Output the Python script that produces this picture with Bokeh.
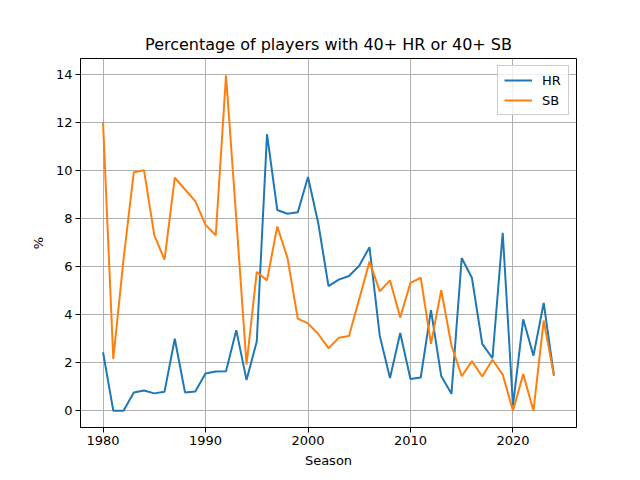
from bokeh.plotting import figure
from bokeh.models import FixedTicker, Range1d, Legend, LegendItem
from bokeh.embed import file_html
from bokeh.resources import INLINE

seasons = list(range(1980, 2025))
hr = [2.43, 0.0, 0.0, 0.76, 0.84, 0.72, 0.79, 2.99, 0.76, 0.8,
      1.55, 1.63, 1.64, 3.35, 1.28, 2.88, 11.5, 8.35, 8.19, 8.25,
      9.72, 7.8, 5.18, 5.45, 5.6, 6.03, 6.8, 3.12, 1.36, 3.23,
      1.32, 1.38, 4.18, 1.44, 0.7, 6.35, 5.52, 2.78, 2.18, 7.4,
      0.21, 3.8, 2.29, 4.48, 1.46]
sb = [12.0, 2.15, 6.3, 9.92, 10.0, 7.3, 6.28, 9.69, 9.2, 8.72,
      7.73, 7.3, 13.95, 8.0, 1.92, 5.77, 5.42, 7.66, 6.35, 3.83,
      3.63, 3.19, 2.6, 3.03, 3.11, 4.65, 6.2, 4.97, 5.42, 3.88,
      5.32, 5.53, 2.78, 5.01, 2.71, 1.43, 2.06, 1.42, 2.12, 1.5,
      0.0, 1.52, 0.0, 3.75, 1.46]
x_ticks = [1980, 1990, 2000, 2010, 2020]
y_ticks = [0, 2, 4, 6, 8, 10, 12, 14]

FONT = "DejaVu Sans"

p = figure(width=640, height=480, output_backend="svg", toolbar_location=None,
           x_range=Range1d(1977.8, 2026.2), y_range=Range1d(-0.7, 14.65),
           min_border_left=80, min_border_right=64, min_border_top=58,
           min_border_bottom=53)

p.title.text = "Percentage of players with 40+ HR or 40+ SB"
p.title.text_font = FONT
p.title.text_font_size = "16px"
p.title.text_font_style = "normal"
p.title.text_color = "black"
p.title.align = "center"
p.title.offset = 0
p.title.standoff = 9

r1 = p.line(seasons, hr, line_color="#1f77b4", line_width=2)
r2 = p.line(seasons, sb, line_color="#ff7f0e", line_width=2)

legend = Legend(items=[LegendItem(label="HR", renderers=[r1]),
                       LegendItem(label="SB", renderers=[r2])],
                location="top_right")
legend.label_text_font = FONT
legend.label_text_font_size = "13px"
legend.label_text_color = "black"
legend.border_line_color = "#cccccc"
legend.border_line_alpha = 1.0
legend.background_fill_alpha = 0.8
legend.glyph_width = 28
legend.glyph_height = 16
legend.label_height = 16
legend.spacing = 4
legend.padding = 6
legend.margin = 7
legend.label_standoff = 10
p.add_layout(legend, "center")

p.xaxis.ticker = FixedTicker(ticks=x_ticks)
p.yaxis.ticker = FixedTicker(ticks=y_ticks)
p.xaxis.axis_label = "Season"
p.yaxis.axis_label = "%"
for ax in (p.xaxis, p.yaxis):
    ax.axis_label_text_font = FONT
    ax.axis_label_text_font_size = "13px"
    ax.axis_label_text_font_style = "normal"
    ax.axis_label_text_color = "black"
    ax.major_label_text_font = FONT
    ax.major_label_text_font_size = "13px"
    ax.major_label_text_color = "black"
    ax.major_tick_in = 0
    ax.major_tick_out = 5
    ax.minor_tick_line_color = None
    ax.axis_line_color = "black"
    ax.major_tick_line_color = "black"
p.xaxis.major_label_standoff = 3
p.xaxis.axis_label_standoff = 5
p.yaxis.major_label_standoff = 3
p.yaxis.axis_label_standoff = 7

p.xgrid.grid_line_color = "#b0b0b0"
p.ygrid.grid_line_color = "#b0b0b0"
p.xgrid.grid_line_width = 1
p.ygrid.grid_line_width = 1
p.outline_line_color = "black"
p.outline_line_alpha = 1.0
p.outline_line_width = 1

open("out.html", "w").write(file_html(p, INLINE))
